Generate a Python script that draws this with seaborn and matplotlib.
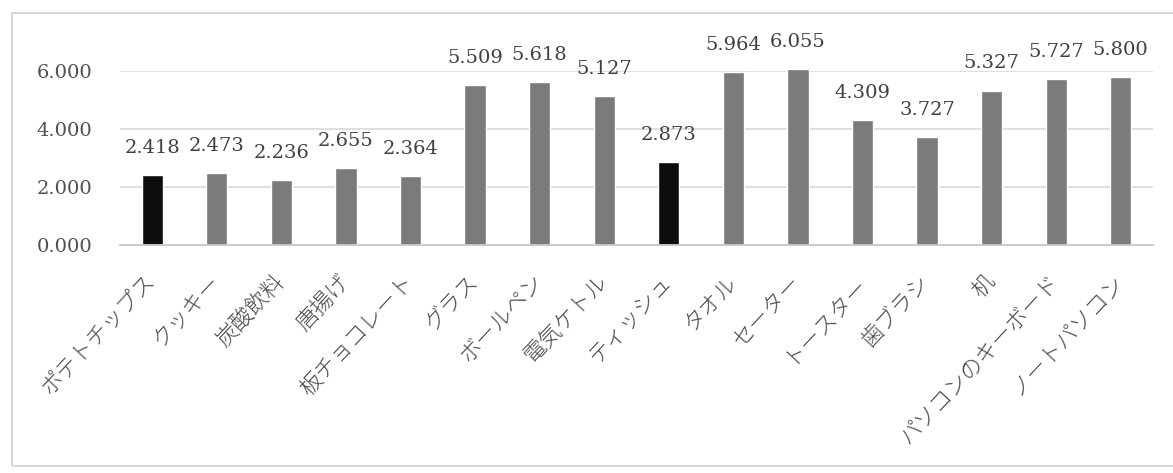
import matplotlib
matplotlib.use("Agg")
import matplotlib.pyplot as plt
import matplotlib.ticker as mticker
from matplotlib.patches import Rectangle
import seaborn as sns
import pandas as pd

# Items and their scores
items = ["ポテトチップス", "クッキー", "炭酸飲料", "唐揚げ", "板チョコレート", "グラス",
         "ボールペン", "電気ケトル", "ティッシュ", "タオル", "セーター", "トースター",
         "歯ブラシ", "机", "パソコンのキーボード", "ノートパソコン"]
scores = [2.418, 2.473, 2.236, 2.655, 2.364, 5.509, 5.618, 5.127, 2.873,
          5.964, 6.055, 4.309, 3.727, 5.327, 5.727, 5.800]
highlighted = ["ポテトチップス", "ティッシュ"]
y_ticks = [0, 2, 4, 6]

sns.set_theme(style="white")
plt.rcParams["font.family"] = ["Noto Sans CJK JP", "DejaVu Sans"]

df = pd.DataFrame({"item": items, "score": scores})
df["group"] = ["hi" if it in highlighted else "base" for it in items]

fig = plt.figure(figsize=(11.73, 4.73), dpi=100)
ax = fig.add_axes([120 / 1173, 1 - 245 / 473, (1153 - 120) / 1173, (245 - 71) / 473])

sns.barplot(data=df, x="item", y="score", hue="group",
            palette={"base": "#7b7b7b", "hi": "#0d0d0d"},
            order=items, width=0.33, dodge=False, legend=False, ax=ax)

for bar in ax.patches:
    bar.set_clip_on(False)

for cont in ax.containers:
    anns = ax.bar_label(cont, fmt="%.3f", padding=13, fontsize=14,
                        family="DejaVu Serif", color="#404040")
    for a in anns:
        a.set_annotation_clip(False)

ax.set_ylim(0, 6)
ax.set_xlim(-0.5, len(items) - 0.5)
ax.set_yticks(y_ticks)
ax.yaxis.set_major_formatter(mticker.FormatStrFormatter("%.3f"))
ax.grid(axis="y", color="#d9d9d9", linewidth=1.2)
ax.set_axisbelow(True)
for side in ["top", "right", "left"]:
    ax.spines[side].set_visible(False)
ax.spines["bottom"].set_color("#c8c8c8")
ax.spines["bottom"].set_linewidth(1.3)
ax.set_xlabel("")
ax.set_ylabel("")
ax.tick_params(axis="both", length=0)
ax.tick_params(axis="y", pad=20, labelsize=14, labelcolor="#505050")
for lab in ax.get_yticklabels():
    lab.set_family("DejaVu Serif")
ax.set_xticks(range(len(items)))
ax.set_xticklabels(items, rotation=47, ha="right", va="center",
                   rotation_mode="anchor", fontsize=16, color="#4a4a4a",
                   fontweight="light")
ax.tick_params(axis="x", pad=24)

# Chart-area frame
fig.patches.append(Rectangle((12 / 1173, 7 / 473), 1.2, 453 / 473,
                             transform=fig.transFigure, fill=False,
                             edgecolor="#d8d8d8", linewidth=1.5))

fig.savefig("out.png", dpi=100, facecolor="white")
